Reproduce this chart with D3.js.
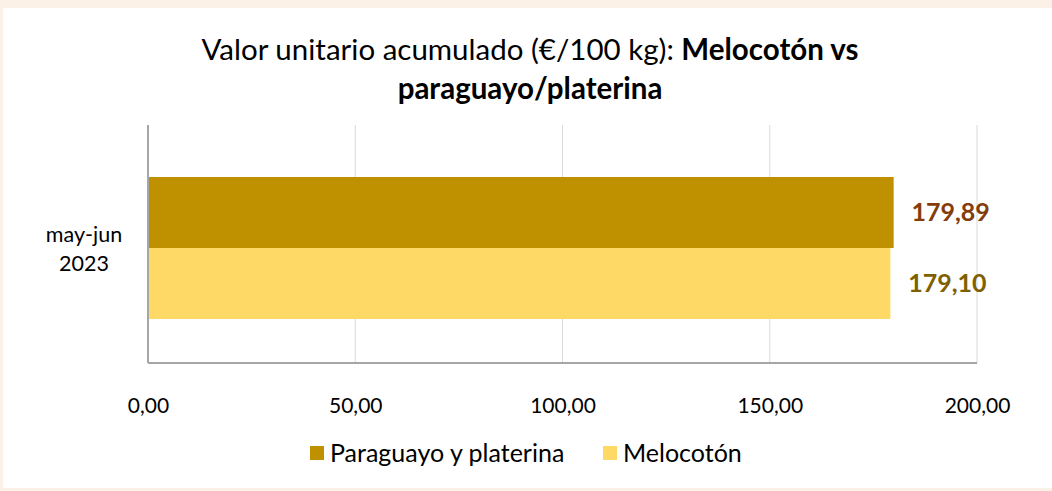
<!DOCTYPE html>
<html>
<head>
<meta charset="utf-8">
<script src="https://cdn.jsdelivr.net/npm/d3@7"></script>
<style>
  html, body { margin: 0; padding: 0; background: #fbf1e6; }
  svg { display: block; }
  text { font-family: Lato, "Open Sans", sans-serif; }
</style>
</head>
<body>
<div id="chart"></div>
<script>
// data
const categories = ["may-jun 2023"];
const seriesNames = ["Paraguayo y platerina", "Melocotón"];
const seriesValues = [[179.89], [179.10]];
const tickValues = [0, 50, 100, 150, 200];
const colors = ["#bf9000", "#ffd966"];
const labelColors = ["#843c0c", "#7f6000"];

const width = 1052, height = 491;
const margin = { top: 125, bottom: 128, left: 148, right: 75 };

const svg = d3.select("#chart").append("svg")
  .attr("width", width)
  .attr("height", height);

// white panel
svg.append("rect")
  .attr("x", 3).attr("y", 8)
  .attr("width", width - 3).attr("height", 480)
  .attr("fill", "#fff");

const fmt = v => d3.format(".2f")(v).replace(".", ",");

const x = d3.scaleLinear()
  .domain([0, 200])
  .range([margin.left, width - margin.right]);

// bars sit a bit lower than the plot centre
const y = d3.scaleBand()
  .domain(categories)
  .range([margin.top + 8, height - margin.bottom])
  .paddingInner(0)
  .paddingOuter(0.31);

const ySub = d3.scaleBand()
  .domain(seriesNames)
  .range([0, y.bandwidth()]);

// title
const title = svg.append("text")
  .attr("text-anchor", "middle")
  .attr("font-size", 29.5)
  .attr("fill", "#000");
title.append("tspan").attr("x", 530).attr("y", 60).text("Valor unitario acumulado (€/100 kg): ");
title.append("tspan").attr("font-weight", "bold").text("Melocotón vs");
title.append("tspan").attr("x", 530).attr("y", 99).attr("font-weight", "bold").text("paraguayo/platerina");

// gridlines
svg.append("g")
  .selectAll("line")
  .data(tickValues.slice(1))
  .join("line")
  .attr("x1", d => x(d)).attr("x2", d => x(d))
  .attr("y1", margin.top).attr("y2", height - margin.bottom)
  .attr("stroke", "#d9d9d9")
  .attr("stroke-width", 1);

// bars
const groups = svg.append("g")
  .selectAll("g")
  .data(categories)
  .join("g")
  .attr("transform", d => `translate(0,${y(d)})`);

seriesNames.forEach((s, si) => {
  groups.append("rect")
    .attr("x", x(0))
    .attr("y", ySub(s))
    .attr("width", (d, i) => x(seriesValues[si][i]) - x(0))
    .attr("height", ySub.bandwidth())
    .attr("fill", colors[si]);

  groups.append("text")
    .attr("x", (d, i) => x(seriesValues[si][i]) + 57)
    .attr("y", ySub(s) + ySub.bandwidth() / 2)
    .attr("dy", "0.35em")
    .attr("text-anchor", "middle")
    .attr("font-size", 25)
    .attr("font-weight", "bold")
    .attr("fill", labelColors[si])
    .text((d, i) => fmt(seriesValues[si][i]));
});

// axis lines
svg.append("line")
  .attr("x1", x(0)).attr("x2", x(0))
  .attr("y1", margin.top).attr("y2", height - margin.bottom)
  .attr("stroke", "#a6a6a6").attr("stroke-width", 2);
svg.append("line")
  .attr("x1", x(0)).attr("x2", x(200))
  .attr("y1", height - margin.bottom).attr("y2", height - margin.bottom)
  .attr("stroke", "#a6a6a6").attr("stroke-width", 2);

// x tick labels
const xAxis = svg.append("g")
  .attr("transform", `translate(0,${height - margin.bottom})`)
  .call(d3.axisBottom(x).tickValues(tickValues).tickFormat(fmt).tickSize(0).tickPadding(35));
xAxis.select(".domain").remove();
xAxis.selectAll("text")
  .attr("font-size", 21)
  .attr("font-family", "Lato, 'Open Sans', sans-serif")
  .attr("fill", "#000");

// category labels
categories.forEach(c => {
  const parts = c.split(" ");
  const t = svg.append("text")
    .attr("text-anchor", "middle")
    .attr("font-size", 21.5)
    .attr("fill", "#000");
  parts.forEach((p, i) => {
    t.append("tspan")
      .attr("x", 84)
      .attr("y", y(c) + y.bandwidth() / 2 + 8 + (i - (parts.length - 1) / 2) * 29)
      .text(p);
  });
});

// legend
const legendX = [310, 603];
const legend = svg.append("g")
  .selectAll("g")
  .data(seriesNames)
  .join("g")
  .attr("transform", (d, i) => `translate(${legendX[i]},446)`);
legend.append("rect")
  .attr("width", 14).attr("height", 14)
  .attr("fill", (d, i) => colors[i]);
legend.append("text")
  .attr("x", 20).attr("y", 7)
  .attr("dy", "0.35em")
  .attr("font-size", 25)
  .attr("fill", "#000")
  .text(d => d);
</script>
</body>
</html>
